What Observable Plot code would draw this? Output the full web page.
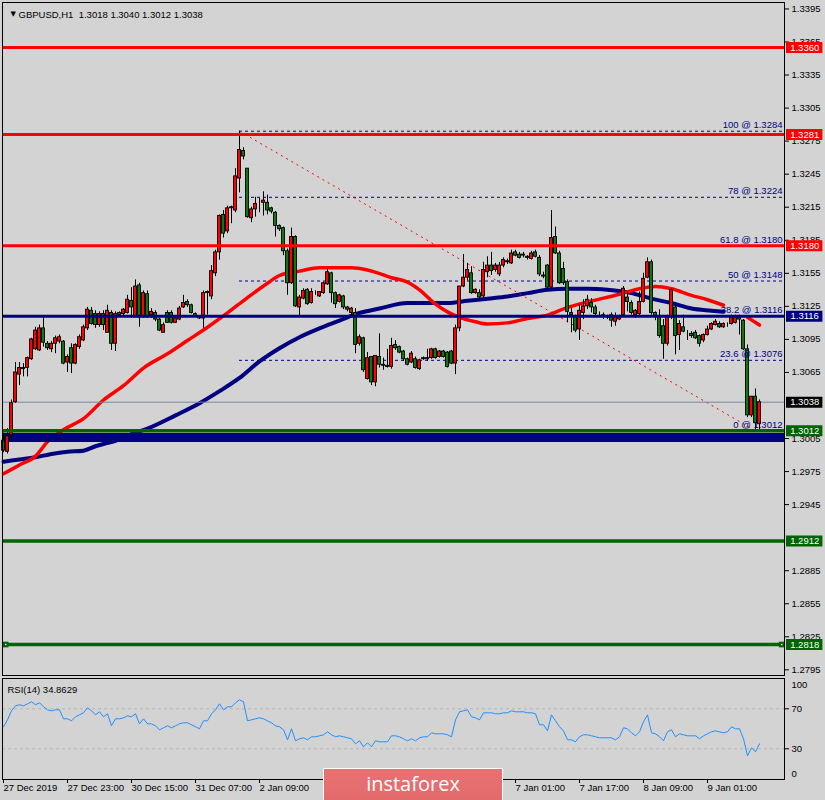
<!DOCTYPE html>
<html><head><meta charset="utf-8">
<script src="https://cdn.jsdelivr.net/npm/d3@7"></script>
<script src="https://cdn.jsdelivr.net/npm/@observablehq/plot@0.6"></script>
<style>
body{margin:0;background:#d3d3d3;}
#wrap{position:relative;width:825px;height:800px;background:#d3d3d3;overflow:hidden;}
#main{position:absolute;left:0;top:0;}
#rsi{position:absolute;left:0;top:678px;}
#logo{position:absolute;left:323px;top:768px;width:178px;height:40px;background:linear-gradient(#e87272,#e06868);border:1px solid #fff;color:#fff;font-family:"Open Sans",sans-serif;font-size:20px;text-align:center;line-height:30px;}
svg{overflow:visible;}
</style></head>
<body><div id="wrap"><div id="main"></div><div id="rsi"></div><div id="logo">instaforex</div></div>
<script>
// ---------- DATA ----------
const symbolTitle = "GBPUSD,H1  1.3018 1.3040 1.3012 1.3038";
const rsiTitle = "RSI(14) 34.8629";

const opens = [
1.3003,1.2993,1.3008,1.3038,1.3063,1.3069,1.3069,1.3077,1.3086,1.3085,
1.3105,1.3091,1.3086,1.3091,1.3093,1.3093,1.3074,1.3087,1.3073,1.3088,
1.3094,1.3105,1.3121,1.3118,1.3108,1.3118,1.3101,1.3119,1.3091,1.3117,
1.3118,1.3119,1.3130,1.3115,1.3144,1.3115,1.3136,1.3117,1.3119,1.3113,
1.3101,1.3119,1.3119,1.3110,1.3113,1.3124,1.3129,1.3126,1.3118,1.3115,
1.3114,1.3137,1.3134,1.3155,1.3174,1.3208,1.3193,1.3214,1.3212,1.3241,
1.3266,1.3250,1.3205,1.3213,1.3219,1.3219,1.3219,1.3214,1.3210,1.3198,
1.3196,1.3175,1.3146,1.3188,1.3124,1.3132,1.3140,1.3128,1.3137,1.3134,
1.3137,1.3145,1.3155,1.3137,1.3129,1.3134,1.3124,1.3119,1.3119,1.3091,
1.3096,1.3059,1.3079,1.3056,1.3079,1.3072,1.3071,1.3070,1.3090,1.3088,
1.3084,1.3077,1.3074,1.3077,1.3068,1.3078,1.3077,1.3078,1.3086,1.3079,
1.3084,1.3083,1.3084,1.3073,1.3105,1.3143,1.3151,1.3155,1.3137,1.3137,
1.3134,1.3156,1.3162,1.3158,1.3154,1.3162,1.3165,1.3164,1.3174,1.3172,
1.3172,1.3170,1.3168,1.3174,1.3169,1.3153,1.3162,1.3142,1.3188,1.3173,
1.3159,1.3147,1.3119,1.3116,1.3104,1.3119,1.3125,1.3128,1.3124,1.3118,
1.3117,1.3116,1.3117,1.3111,1.3113,1.3117,1.3133,1.3128,1.3117,1.3118,
1.3129,1.3151,1.3165,1.3119,1.3116,1.3107,1.3091,1.3115,1.3124,1.3099,
1.3106,1.3100,1.3100,1.3101,1.3098,1.3094,1.3099,1.3104,1.3108,1.3109,
1.3106,1.3108,1.3109,1.3110,1.3115,1.3112,1.3086,1.3026,1.3043,1.3018];
const highs = [
1.3010,1.3014,1.3040,1.3074,1.3074,1.3073,1.3079,1.3096,1.3106,1.3108,
1.3115,1.3093,1.3093,1.3098,1.3099,1.3094,1.3081,1.3091,1.3091,1.3099,
1.3108,1.3124,1.3124,1.3121,1.3120,1.3121,1.3126,1.3121,1.3120,1.3120,
1.3123,1.3135,1.3142,1.3149,1.3146,1.3139,1.3139,1.3123,1.3121,1.3114,
1.3110,1.3121,1.3121,1.3116,1.3125,1.3135,1.3131,1.3127,1.3119,1.3116,
1.3139,1.3139,1.3162,1.3176,1.3208,1.3212,1.3216,1.3216,1.3250,1.3284,
1.3269,1.3250,1.3215,1.3224,1.3223,1.3229,1.3226,1.3215,1.3211,1.3199,
1.3197,1.3177,1.3196,1.3189,1.3135,1.3141,1.3141,1.3141,1.3139,1.3138,
1.3147,1.3159,1.3156,1.3138,1.3136,1.3135,1.3125,1.3124,1.3123,1.3099,
1.3097,1.3083,1.3079,1.3080,1.3100,1.3078,1.3086,1.3096,1.3094,1.3089,
1.3085,1.3078,1.3084,1.3079,1.3077,1.3079,1.3086,1.3087,1.3087,1.3085,
1.3085,1.3084,1.3085,1.3108,1.3143,1.3172,1.3164,1.3161,1.3141,1.3140,
1.3165,1.3170,1.3174,1.3164,1.3165,1.3169,1.3168,1.3176,1.3176,1.3174,
1.3174,1.3171,1.3175,1.3176,1.3171,1.3156,1.3163,1.3212,1.3197,1.3175,
1.3165,1.3149,1.3123,1.3117,1.3126,1.3131,1.3135,1.3132,1.3126,1.3120,
1.3119,1.3117,1.3119,1.3119,1.3117,1.3143,1.3138,1.3130,1.3122,1.3138,
1.3155,1.3169,1.3167,1.3120,1.3122,1.3113,1.3117,1.3141,1.3125,1.3112,
1.3117,1.3103,1.3102,1.3103,1.3099,1.3100,1.3107,1.3110,1.3113,1.3111,
1.3110,1.3110,1.3117,1.3117,1.3117,1.3113,1.3090,1.3043,1.3050,1.3040];
const lows = [
1.2992,1.2991,1.3003,1.3037,1.3053,1.3061,1.3061,1.3076,1.3085,1.3084,
1.3088,1.3085,1.3083,1.3082,1.3091,1.3072,1.3065,1.3064,1.3072,1.3086,
1.3093,1.3103,1.3108,1.3105,1.3106,1.3103,1.3101,1.3085,1.3084,1.3115,
1.3116,1.3118,1.3114,1.3115,1.3106,1.3114,1.3114,1.3114,1.3111,1.3102,
1.3101,1.3110,1.3109,1.3110,1.3112,1.3123,1.3124,1.3118,1.3115,1.3113,
1.3105,1.3117,1.3131,1.3152,1.3167,1.3187,1.3191,1.3200,1.3210,1.3228,
1.3258,1.3205,1.3201,1.3206,1.3210,1.3207,1.3208,1.3209,1.3188,1.3193,
1.3171,1.3135,1.3145,1.3124,1.3116,1.3131,1.3126,1.3127,1.3135,1.3133,
1.3136,1.3144,1.3128,1.3123,1.3128,1.3122,1.3120,1.3115,1.3082,1.3089,
1.3065,1.3058,1.3053,1.3052,1.3069,1.3067,1.3069,1.3068,1.3085,1.3082,
1.3075,1.3071,1.3073,1.3068,1.3067,1.3076,1.3075,1.3077,1.3077,1.3078,
1.3078,1.3069,1.3072,1.3063,1.3102,1.3142,1.3148,1.3136,1.3136,1.3130,
1.3132,1.3151,1.3153,1.3156,1.3152,1.3160,1.3163,1.3163,1.3170,1.3168,
1.3169,1.3167,1.3167,1.3169,1.3152,1.3150,1.3140,1.3141,1.3172,1.3145,
1.3144,1.3110,1.3101,1.3101,1.3094,1.3113,1.3122,1.3119,1.3115,1.3115,
1.3113,1.3113,1.3106,1.3107,1.3112,1.3116,1.3120,1.3117,1.3114,1.3115,
1.3128,1.3150,1.3117,1.3112,1.3096,1.3077,1.3089,1.3113,1.3081,1.3085,
1.3101,1.3094,1.3096,1.3095,1.3088,1.3092,1.3098,1.3103,1.3107,1.3105,
1.3105,1.3106,1.3108,1.3109,1.3099,1.3085,1.3024,1.3024,1.3012,1.3012];
const closes = [
1.2994,1.3007,1.3037,1.3065,1.3069,1.3068,1.3078,1.3095,1.3103,1.3105,
1.3092,1.3087,1.3091,1.3096,1.3097,1.3073,1.3079,1.3073,1.3090,1.3097,
1.3106,1.3122,1.3109,1.3108,1.3118,1.3108,1.3121,1.3091,1.3118,1.3119,
1.3122,1.3131,1.3124,1.3143,1.3115,1.3137,1.3115,1.3120,1.3113,1.3103,
1.3108,1.3110,1.3110,1.3114,1.3123,1.3128,1.3126,1.3119,1.3116,1.3114,
1.3137,1.3138,1.3157,1.3174,1.3207,1.3191,1.3214,1.3215,1.3243,1.3267,
1.3261,1.3206,1.3213,1.3218,1.3219,1.3221,1.3212,1.3211,1.3198,1.3195,
1.3175,1.3146,1.3188,1.3125,1.3133,1.3139,1.3127,1.3138,1.3137,1.3138,
1.3146,1.3156,1.3137,1.3127,1.3135,1.3124,1.3122,1.3123,1.3090,1.3097,
1.3067,1.3078,1.3056,1.3080,1.3072,1.3071,1.3070,1.3089,1.3087,1.3083,
1.3077,1.3072,1.3082,1.3069,1.3076,1.3077,1.3078,1.3086,1.3078,1.3084,
1.3079,1.3070,1.3073,1.3105,1.3143,1.3151,1.3158,1.3137,1.3140,1.3133,
1.3158,1.3162,1.3157,1.3162,1.3162,1.3167,1.3166,1.3173,1.3171,1.3169,
1.3171,1.3169,1.3173,1.3170,1.3154,1.3152,1.3142,1.3187,1.3173,1.3146,
1.3146,1.3120,1.3117,1.3103,1.3121,1.3125,1.3131,1.3124,1.3118,1.3118,
1.3116,1.3115,1.3112,1.3116,1.3116,1.3141,1.3129,1.3119,1.3121,1.3129,
1.3150,1.3165,1.3119,1.3116,1.3098,1.3091,1.3116,1.3140,1.3098,1.3109,
1.3102,1.3100,1.3098,1.3096,1.3091,1.3099,1.3104,1.3109,1.3111,1.3106,
1.3109,1.3108,1.3115,1.3115,1.3113,1.3086,1.3026,1.3043,1.3019,1.3038];

const rsi14 = [
52,59,68,73,74,73,75,77,74,76, 72,69,68,69,69,60,60,58,62,64,
66,71,68,64,67,62,65,53,60,60, 61,63,62,65,55,60,55,55,53,49,
51,53,51,53,55,56,56,54,52,50, 58,58,65,69,75,69,72,72,76,79,
77,58,59,60,61,60,58,56,53,52, 49,39,50,38,40,41,39,42,42,43,
44,47,44,42,43,42,41,40,35,38, 32,36,32,38,37,37,37,43,43,42,
40,38,40,38,41,42,42,46,45,45, 45,44,42,59,67,68,69,62,61,59,
66,66,66,65,65,66,66,68,67,67, 67,66,66,65,54,54,48,64,58,52,
48,39,39,37,42,44,44,43,42,41, 41,41,41,39,42,51,50,46,43,47,
57,64,46,45,42,38,47,49,42,45, 44,43,43,43,40,43,45,47,48,47,
46,47,52,50,50,40,23,31,27,35];

// moving averages read at sampled bars (red = fast, navy = slow)
const redMaBars = [0,4,8,11,15,20,25,30,35,41,46,51,56,61,66,69,74,79,87,91,97,101,104,108,111,114,118,121,126,131,136,141,146,154,159,163,167,172,176,180, 186,189];
const redMaVals = [1.2973,1.2981,1.2989,1.3002,1.3013,1.3023,1.3040,1.3053,1.3069,1.3082,1.3094,1.3106,1.3119,1.3133,1.3146,1.3153,1.3157,1.3160,1.3160,1.3158,1.3151,1.3147,1.3140,1.3127,1.3120,1.3115,1.3111,1.3109,1.3110,1.3114,1.3117,1.3124,1.3129,1.3136,1.3141,1.3143,1.3141,1.3135,1.3131,1.3126, 1.3115,1.3108];
const redMaSegment = redMaBars.map(b => b > 182 ? "tail" : "main");
const blueMaBars = [0,4,8,12,16,20,23,26,28,32,36,43,49,54,59,64,69,74,79,84,89,94,101,111,116,121,126,131,136,141,146,151,157,162,167,172,177,180];
const blueMaVals = [1.2984,1.2986,1.2988,1.2991,1.2993,1.2994,1.2998,1.3001,1.3003,1.3009,1.3014,1.3026,1.3037,1.3048,1.3060,1.3075,1.3087,1.3097,1.3105,1.3112,1.3119,1.3123,1.3128,1.3128,1.3130,1.3132,1.3134,1.3137,1.3140,1.3141,1.3141,1.3140,1.3137,1.3132,1.3128,1.3123,1.3121,1.3120];

const fibPcts = ["100","78","61.8","50","38.2","23.6","0"];
const fibPrices = [1.3284,1.3224,1.3180,1.3148,1.3116,1.3076,1.3012];
const fibFromBar = 59, fibFromPrice = 1.3284, fibToBar = 188, fibToPrice = 1.3012;

const redLevels = [1.3360,1.3281,1.3180];
const navyLevels = [1.3116];
const greenLevels = [1.3012,1.2912,1.2818];
const bandLevels = [1.3006];
const bidLevels = [1.3038];
const handleLevel = 1.2818;
const tagPrices = [1.3360,1.3281,1.3180,1.3116,1.3038,1.3012,1.2912,1.2818];
const tagColors = ["#ff0000","#ff0000","#ff0000","#000080","#000000","#006400","#006400","#006400"];

// price ticks (1.3035 and 1.2915 sit fully under the 1.3038 / 1.2912 tags)
const priceTicks = [1.3395,1.3365,1.3335,1.3305,1.3275,1.3245,1.3215,1.3185,1.3155,1.3125,1.3095,1.3065,1.3005,1.2975,1.2945,1.2885,1.2855,1.2825,1.2795];
const rsiTicks = [70,30];
const timeTickBars = [0,16,32,48,64,80,96,112,128,144,160,176];
// labels visible in the picture (the others sit under the logo)
const timeLabelBars = [0,16,32,48,64,128,144,160,176];
const timeLabels = ["27 Dec 2019","27 Dec 23:00","30 Dec 15:00","31 Dec 07:00","2 Jan 09:00","7 Jan 01:00","7 Jan 17:00","8 Jan 09:00","9 Jan 01:00"];

// ---------- BUILD ----------
const FONT = "Liberation Sans, Arial, sans-serif";
const NAVY = "#000080", DKGREEN = "#006400";
const xDomain = [-0.25, 195.25];
const rsiDomain = [-0.7, 100.3];
const bars = opens.map((o, i) => ({i, o, h: highs[i], l: lows[i], c: closes[i]}));
const redMa = redMaBars.map((b, k) => ({b, v: redMaVals[k], seg: redMaSegment[k]}));
const blueMa = blueMaBars.map((b, k) => ({b, v: blueMaVals[k]}));
const fibs = fibPrices.map((p, k) => ({p, t: fibPcts[k] + " @ " + p.toFixed(4)}));
const tags = tagPrices.map((p, k) => ({p, c: tagColors[k]}));
const tagX1 = xDomain[1] + 0.5, tagX2 = xDomain[1] + 9.6, tagXc = (tagX1 + tagX2) / 2;

const main = Plot.plot({
  width: 825, height: 677,
  marginTop: 2, marginBottom: 2, marginLeft: 2, marginRight: 41,
  style: {background: "transparent", fontFamily: FONT, fontSize: "9.5px", color: "black", overflow: "visible"},
  x: {domain: xDomain, axis: null},
  y: {domain: [1.278987, 1.340085], axis: null},
  marks: [
    Plot.ruleY(fibs, {y: "p", x1: fibFromBar, x2: xDomain[1], stroke: NAVY, strokeWidth: 1, strokeDasharray: "3,3"}),
    Plot.line(blueMa, {x: "b", y: "v", stroke: NAVY, strokeWidth: 4, curve: "monotone-x"}),
    Plot.line(redMa, {x: "b", y: "v", z: "seg", stroke: "#ff0000", strokeWidth: 3.5, curve: "monotone-x"}),
    Plot.ruleY(bandLevels, {stroke: NAVY, strokeWidth: 9}),
    Plot.link([{x1: fibFromBar, y1: fibFromPrice, x2: fibToBar, y2: fibToPrice}], {x1: "x1", y1: "y1", x2: "x2", y2: "y2", stroke: "#ff0000", strokeWidth: 1, strokeDasharray: "2,4"}),
    Plot.ruleY(bidLevels, {stroke: "#778899", strokeWidth: 1}),
    Plot.ruleX(bars, {x: "i", y1: "l", y2: "h", stroke: "black", strokeWidth: 1}),
    Plot.rect(bars, {x1: d => d.i - 0.36, x2: d => d.i + 0.36, y1: "o", y2: "c",
      fill: d => d.c >= d.o ? "#ff0000" : "#117711", stroke: "black", strokeWidth: 0.9}),
    Plot.ruleY(redLevels, {stroke: "#ff0000", strokeWidth: 3}),
    Plot.ruleY(navyLevels, {stroke: NAVY, strokeWidth: 3}),
    Plot.ruleY(greenLevels, {stroke: DKGREEN, strokeWidth: 3.5}),
    Plot.axisY(priceTicks, {anchor: "right", tickSize: 4, tickPadding: 3, tickFormat: d => d.toFixed(4), fontSize: 9.5}),
    Plot.ruleY(tags, {y: "p", x1: tagX1, x2: tagX2, stroke: "c", strokeWidth: 11}),
    Plot.text(tags, {y: "p", x: tagXc, text: d => d.p.toFixed(4), fill: "white", fontSize: 9.5}),
    Plot.text(fibs, {y: "p", x: xDomain[1], dx: -2, dy: -6, text: "t", textAnchor: "end", fill: NAVY, fontSize: 9.5}),
    Plot.dot([xDomain[0] + 0.8, xDomain[1] - 0.7], {x: d => d, y: handleLevel, symbol: "square", r: 3.2, fill: DKGREEN}),
    Plot.dot([xDomain[0] + 0.8, xDomain[1] - 0.7], {x: d => d, y: handleLevel, symbol: "square", r: 0.8, fill: "white"}),
    Plot.text(["▼"], {frameAnchor: "top-left", dx: 8, dy: 9, fontSize: 7, fontFamily: "DejaVu Sans", fill: "black"}),
    Plot.text([symbolTitle], {frameAnchor: "top-left", dx: 16, dy: 9, textAnchor: "start", fontSize: 9.5, fill: "black"}),
    Plot.frame({stroke: "black"})
  ]
});
document.getElementById("main").appendChild(main);

const rsiPlot = Plot.plot({
  width: 825, height: 122,
  marginTop: 0, marginBottom: 21, marginLeft: 2, marginRight: 41,
  style: {background: "transparent", fontFamily: FONT, fontSize: "9.5px", color: "black", overflow: "visible"},
  x: {domain: xDomain, axis: null},
  y: {domain: rsiDomain, axis: null},
  marks: [
    Plot.ruleY(rsiTicks, {stroke: "#b4b4b4", strokeDasharray: "3,3"}),
    Plot.line(rsi14, {x: (d, i) => i, y: d => d, stroke: "#1e90ff", strokeWidth: 1}),
    Plot.axisY(rsiTicks, {anchor: "right", tickSize: 4, tickPadding: 3, fontSize: 9.5}),
    Plot.axisY([100], {anchor: "right", tickSize: 0, tickPadding: 7, dy: 6, fontSize: 9.5}),
    Plot.axisY([0], {anchor: "right", tickSize: 0, tickPadding: 7, dy: -5, fontSize: 9.5}),
    Plot.axisX(timeTickBars, {anchor: "bottom", tickSize: 4, tickFormat: () => "", fontSize: 9.5}),
    Plot.axisX(timeLabelBars, {anchor: "bottom", tickSize: 0, tickPadding: 5, textAnchor: "start", dx: 0,
      tickFormat: d => timeLabels[timeLabelBars.indexOf(d)], fontSize: 9.5}),
    Plot.text([rsiTitle], {frameAnchor: "top-left", dx: 5, dy: 8, textAnchor: "start", fontSize: 9.5, fill: "black"}),
    Plot.frame({stroke: "black"})
  ]
});
document.getElementById("rsi").appendChild(rsiPlot);
</script>
</body></html>
